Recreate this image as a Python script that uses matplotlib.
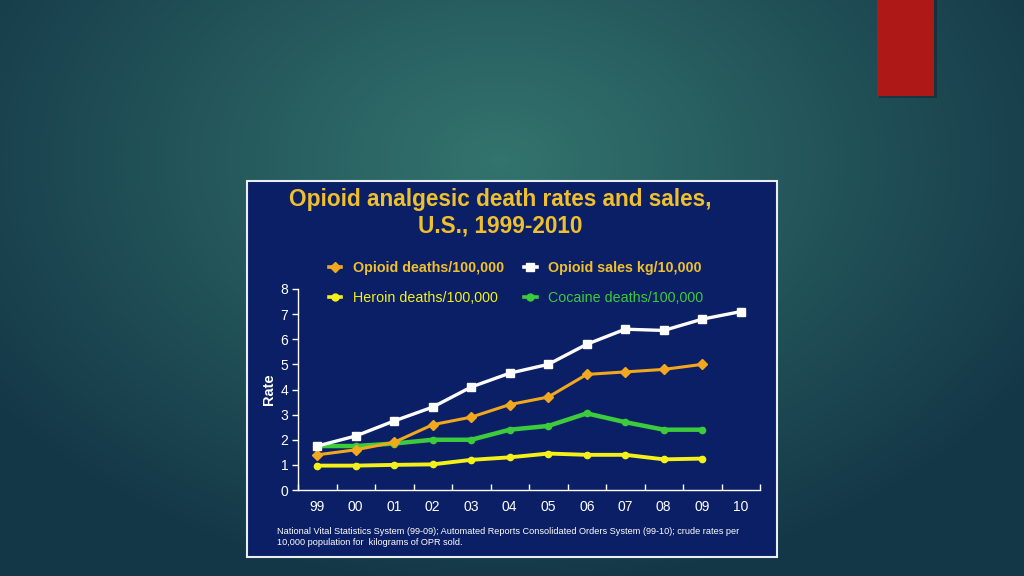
import numpy as np
import matplotlib
matplotlib.use("Agg")
import matplotlib.pyplot as plt
from matplotlib.lines import Line2D
from matplotlib.patches import Rectangle

# ---- data ----
years = ["99", "00", "01", "02", "03", "04", "05", "06", "07", "08", "09", "10"]
opioid_sales = [1.75, 2.15, 2.75, 3.3, 4.1, 4.65, 5.0, 5.8, 6.4, 6.35, 6.8, 7.1]
opioid_deaths = [1.4, 1.6, 1.9, 2.6, 2.9, 3.4, 3.7, 4.6, 4.7, 4.8, 5.0]
cocaine_deaths = [1.75, 1.75, 1.85, 2.0, 2.0, 2.4, 2.55, 3.05, 2.7, 2.4, 2.4]
heroin_deaths = [0.97, 0.97, 1.0, 1.02, 1.2, 1.3, 1.45, 1.4, 1.4, 1.22, 1.25]
yticks = [0, 1, 2, 3, 4, 5, 6, 7, 8]

title = "Opioid analgesic death rates and sales,\nU.S., 1999-2010"
footnote = ("National Vital Statistics System (99-09); Automated Reports Consolidated Orders System (99-10); crude rates per\n"
            "10,000 population for  kilograms of OPR sold.")

plt.rcParams['font.family'] = ['Liberation Sans', 'DejaVu Sans']

W, H = 1024, 576
fig = plt.figure(figsize=(W / 100, H / 100), dpi=100)

# ---- slide background (radial teal gradient) ----
bg = fig.add_axes([0, 0, 1, 1])
yy, xx = np.mgrid[0:H, 0:W]
d = np.sqrt(((xx - 500) / 620.0) ** 2 + ((yy - 160) / 430.0) ** 2)
d = np.clip(d, 0, 1)
c0 = np.array([0x33, 0x74, 0x6E]) / 255.0
c1 = np.array([0x14, 0x37, 0x47]) / 255.0
img = c0[None, None, :] * (1 - d[..., None]) + c1[None, None, :] * d[..., None]
bg.imshow(img, extent=[0, W, H, 0], aspect='auto')
bg.set_xlim(0, W)
bg.set_ylim(H, 0)
bg.axis('off')
# red accent bar with shadow
bg.add_patch(Rectangle((879, 0), 58, 98, color='black', alpha=0.25, lw=0))
bg.add_patch(Rectangle((877, 0), 57, 96, color='#AE1816', lw=0))
# chart panel
bg.add_patch(Rectangle((247, 181), 530, 376, facecolor='#0B1F66', edgecolor='#E8EEF2', lw=1.5))

# ---- chart ----
ax = fig.add_axes([298 / W, 1 - 490 / H, 462 / W, 201 / H])
ax.set_facecolor('none')
x_all = np.arange(len(years))
x_d = np.arange(len(opioid_deaths))

lw = 2.4
h_sales, = ax.plot(x_all, opioid_sales, color='white', lw=lw, marker='s', ms=6, mec='white', zorder=4)
h_od, = ax.plot(x_d, opioid_deaths, color='#F2A81E', lw=lw - 0.2, marker='D', ms=5, zorder=3)
h_coc, = ax.plot(x_d, cocaine_deaths, color='#3CCB3C', lw=lw + 0.8, marker='o', ms=4.5, zorder=2)
h_her, = ax.plot(x_d, heroin_deaths, color='#F4F01A', lw=lw + 0.4, marker='o', ms=4.5, zorder=2)

ax.set_xlim(-0.5, len(years) - 0.5)
ax.set_ylim(0, 8)
ax.set_yticks(yticks)
ax.set_xticks(x_all)
ax.set_xticklabels(years)
ax.set_xticks(np.arange(-0.5, len(years), 1), minor=True)
ax.tick_params(axis='x', which='major', length=0, pad=7, colors='white', labelsize=10)
ax.tick_params(axis='x', which='minor', length=4, direction='in', color='white', width=1)
ax.tick_params(axis='y', length=4, direction='out', color='white', width=1, labelsize=10, labelcolor='white', pad=3)
for s in ['top', 'right']:
    ax.spines[s].set_visible(False)
for s in ['left', 'bottom']:
    ax.spines[s].set_color('white')
    ax.spines[s].set_linewidth(1)
ax.set_ylabel("Rate", color='white', fontsize=10.5, fontweight='bold', labelpad=3)

# ---- legend ----
def hl(color, marker, ms):
    return Line2D([0], [0], color=color, lw=2.6, marker=marker, ms=ms, mec=color)

handles = [hl('#F2A81E', 'D', 5), hl('#F4F01A', 'o', 5), hl('white', 's', 6), hl('#3CCB3C', 'o', 5)]
labels = ["Opioid deaths/100,000", "Heroin deaths/100,000", "Opioid sales kg/10,000", "Cocaine deaths/100,000"]
leg = fig.legend(handles, labels, ncol=2, loc='upper center', bbox_to_anchor=(516 / W, 1 - 248 / H),
                 frameon=False, fontsize=10.3, handlelength=0.9, handletextpad=0.8, columnspacing=1.4,
                 labelspacing=1.15)
tcols = ['#EFC02E', '#F4F01A', '#EFC02E', '#3CCB3C']
weights = ['bold', 'normal', 'bold', 'normal']
for t, c, w in zip(leg.get_texts(), tcols, weights):
    t.set_color(c)
    t.set_fontweight(w)

# ---- title & footnote ----
fig.text(500 / W, 1 - 213 / H, title, ha='center', va='center', color='#EFC02E',
         fontsize=16.3, fontweight='bold', linespacing=1.2)
fig.text(277 / W, 1 - 537 / H, footnote, ha='left', va='center', color='white',
         fontsize=6.6, linespacing=1.3)

fig.savefig("out.png", dpi=100)
